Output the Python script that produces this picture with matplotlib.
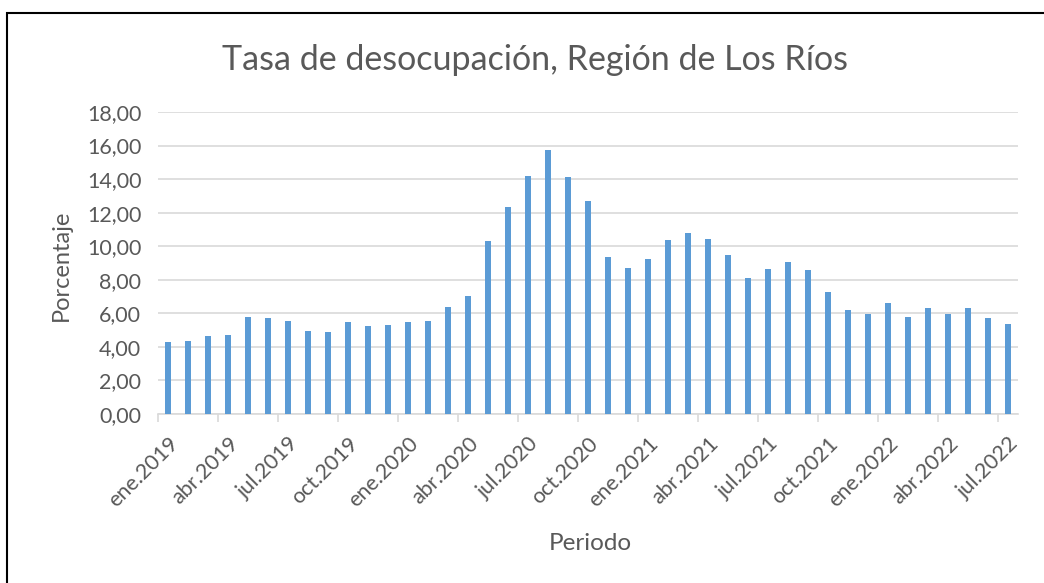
import numpy as np
import matplotlib.pyplot as plt
from matplotlib.patches import Rectangle

# Tasa de desocupación mensual, ene.2019 - jul.2022
meses = ["ene", "feb", "mar", "abr", "may", "jun", "jul", "ago", "sep", "oct", "nov", "dic"]
periodos = [f"{meses[i % 12]}.{2019 + i // 12}" for i in range(43)]
tasa = [4.29, 4.33, 4.63, 4.71, 5.78, 5.71, 5.55, 4.95, 4.87, 5.47, 5.23, 5.33,
        5.51, 5.55, 6.36, 7.02, 10.30, 12.33, 14.21, 15.75, 14.14, 12.68, 9.34, 8.71,
        9.24, 10.36, 10.80, 10.44, 9.50, 8.11, 8.63, 9.05, 8.57, 7.28, 6.20, 5.94,
        6.62, 5.77, 6.32, 5.96, 6.32, 5.71, 5.39]

plt.rcParams['font.family'] = ['Lato', 'DejaVu Sans']
gris = "#595959"

W, H = 1044, 583
fig = plt.figure(figsize=(W / 100, H / 100), dpi=100)
ax = fig.add_axes([158 / W, (H - 414) / H, 860 / W, 302 / H])

x = np.arange(len(tasa))
ax.bar(x, tasa, width=0.3, color="#5B9BD5", zorder=3)

ax.set_xlim(-0.5, len(tasa) - 0.5)
ax.set_ylim(0, 18)
ax.set_yticks(np.arange(0, 19, 2))
ax.set_yticklabels([f"{v:.2f}".replace(".", ",") for v in np.arange(0, 19, 2)])
ax.yaxis.grid(True, color="#D9D9D9", linewidth=1.2, zorder=0)
ax.tick_params(axis="y", length=0, pad=12, labelsize=15.5, labelcolor=gris)

# etiquetas cada 3 meses, marcas entre categorías
ax.set_xticks(x[::3])
ax.set_xticklabels(periodos[::3], rotation=45, ha="right", rotation_mode="anchor")
ax.set_xticks(np.arange(-0.5, len(tasa) - 1, 3), minor=True)
ax.tick_params(axis="x", which="major", length=0, pad=14, labelsize=15.5, labelcolor=gris)
ax.tick_params(axis="x", which="minor", length=6, width=1.2, color="#D9D9D9")

for s in ["top", "right", "left"]:
    ax.spines[s].set_visible(False)
ax.spines["bottom"].set_color("#D9D9D9")
ax.spines["bottom"].set_linewidth(1.2)

fig.text(535 / W, 1 - 60 / H, "Tasa de desocupación, Región de Los Ríos",
         ha="center", va="center", fontsize=24.5, color=gris)
fig.text(61 / W, 1 - 265 / H, "Porcentaje", rotation=90, ha="center", va="center",
         fontsize=17, color=gris)
fig.text(590 / W, 1 - 543 / H, "Periodo", ha="center", va="center", fontsize=17.5, color=gris)

# borde del gráfico
fig.patches.append(Rectangle((7 / W, -0.1), 1.2, 1 - 13 / H + 0.1, transform=fig.transFigure,
                             fill=False, edgecolor="black", linewidth=1.5))

fig.savefig("out.png", dpi=100)
